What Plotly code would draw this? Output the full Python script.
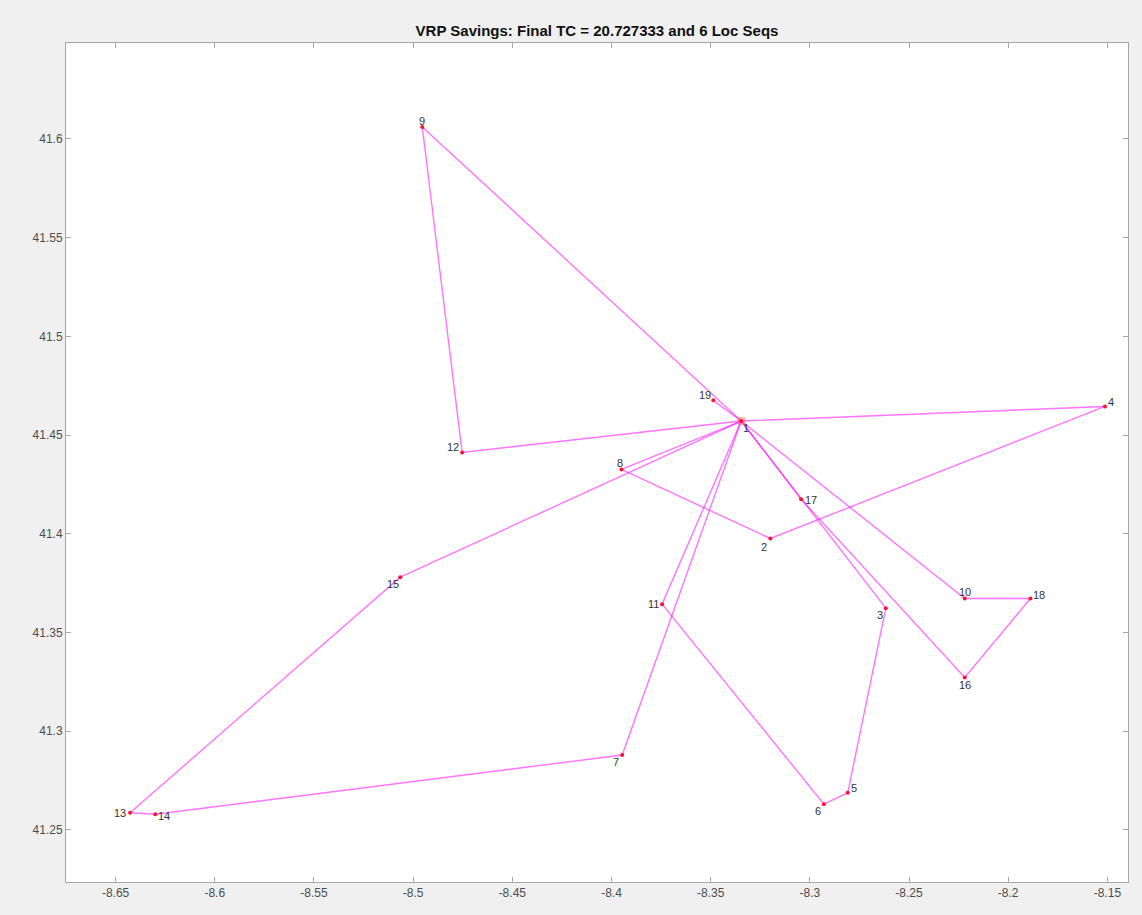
import plotly.graph_objects as go

# Location coordinates (longitude, latitude), location 1 is the depot
loc_ids = list(range(1, 20))
lon = [-8.3346, -8.3199, -8.2617, -8.1512, -8.2809, -8.2929, -8.3946, -8.3950, -8.4954, -8.2219,
       -8.3745, -8.4753, -8.6427, -8.6300, -8.5065, -8.2219, -8.3044, -8.1888, -8.3487]
lat = [41.4571, 41.3976, 41.3623, 41.4645, 41.2688, 41.2630, 41.2879, 41.4326, 41.6061, 41.3672,
       41.3643, 41.4412, 41.2587, 41.2579, 41.3780, 41.3272, 41.4175, 41.3672, 41.4676]

# Location sequences found by the savings heuristic
routes = [
    [1, 9, 12, 1],
    [1, 4, 2, 8, 1],
    [1, 15, 13, 14, 7, 1],
    [1, 11, 6, 5, 3, 1],
    [1, 17, 16, 18, 10, 1],
    [1, 19, 1],
]
total_cost = 20.727333

x_ticks = [-8.65, -8.6, -8.55, -8.5, -8.45, -8.4, -8.35, -8.3, -8.25, -8.2, -8.15]
y_ticks = [41.25, 41.3, 41.35, 41.4, 41.45, 41.5, 41.55, 41.6]

# Pixel offsets of each location's number label
label_shift = {
    1: (5, -7), 2: (-6, -8), 3: (-6, -7), 4: (6, 4), 5: (6, 5), 6: (-6, -7),
    7: (-6, -7), 8: (-1, 6), 9: (0, 6), 10: (0, 7), 11: (-9, 0), 12: (-9, 5),
    13: (-10, 0), 14: (9, -2), 15: (-7, -7), 16: (0, -8), 17: (10, -1),
    18: (9, 4), 19: (-8, 5),
}

fig = go.Figure()

for r in routes:
    fig.add_trace(go.Scatter(
        x=[lon[i - 1] for i in r], y=[lat[i - 1] for i in r],
        mode="lines", line=dict(color="rgba(255,0,255,0.55)", width=1.4),
        hoverinfo="skip", showlegend=False,
    ))

fig.add_trace(go.Scatter(
    x=[lon[0]], y=[lat[0]], mode="markers",
    marker=dict(symbol="square", size=8, color="rgba(255,110,110,0.5)",
                line=dict(width=0)),
    showlegend=False,
))

fig.add_trace(go.Scatter(
    x=lon, y=lat, mode="markers",
    marker=dict(size=4, color="#ff1030"),
    text=[str(i) for i in loc_ids], hoverinfo="text", showlegend=False,
))

for i in loc_ids:
    dx, dy = label_shift[i]
    fig.add_annotation(
        x=lon[i - 1], y=lat[i - 1], text=str(i), showarrow=False,
        xshift=dx, yshift=dy,
        font=dict(family="Liberation Sans, Arial, sans-serif", size=11, color="#333333"),
    )

axis_common = dict(
    showline=True, linecolor="#a6a6a6", linewidth=1, mirror="ticks",
    ticks="inside", ticklen=5, tickcolor="#a6a6a6", showgrid=False, zeroline=False,
)

fig.update_xaxes(
    range=[-8.675, -8.1396], tickvals=x_ticks, ticktext=[f"{v:g}" for v in x_ticks],
    tickfont=dict(family="Liberation Sans Narrow, Liberation Sans, Arial", size=12, color="#4d4d4d"),
    **axis_common,
)
fig.update_yaxes(
    range=[41.2236, 41.6486], tickvals=y_ticks, ticktext=[f"{v:g}" for v in y_ticks],
    tickfont=dict(family="Liberation Sans, Arial", size=12, color="#4d4d4d"),
    **axis_common,
)

fig.update_layout(
    width=1142, height=915,
    margin=dict(l=66, r=14, t=43, b=33),
    paper_bgcolor="#f0f0f0", plot_bgcolor="white",
    title=dict(
        text=f"<b>VRP Savings: Final TC = {total_cost:.6f} and {len(routes)} Loc Seqs</b>",
        x=597 / 1142, xanchor="center", y=1 - 31 / 915, yanchor="middle",
        font=dict(family="Liberation Sans, Arial", size=15, color="#111111"),
    ),
)

fig.write_html("out.html")
